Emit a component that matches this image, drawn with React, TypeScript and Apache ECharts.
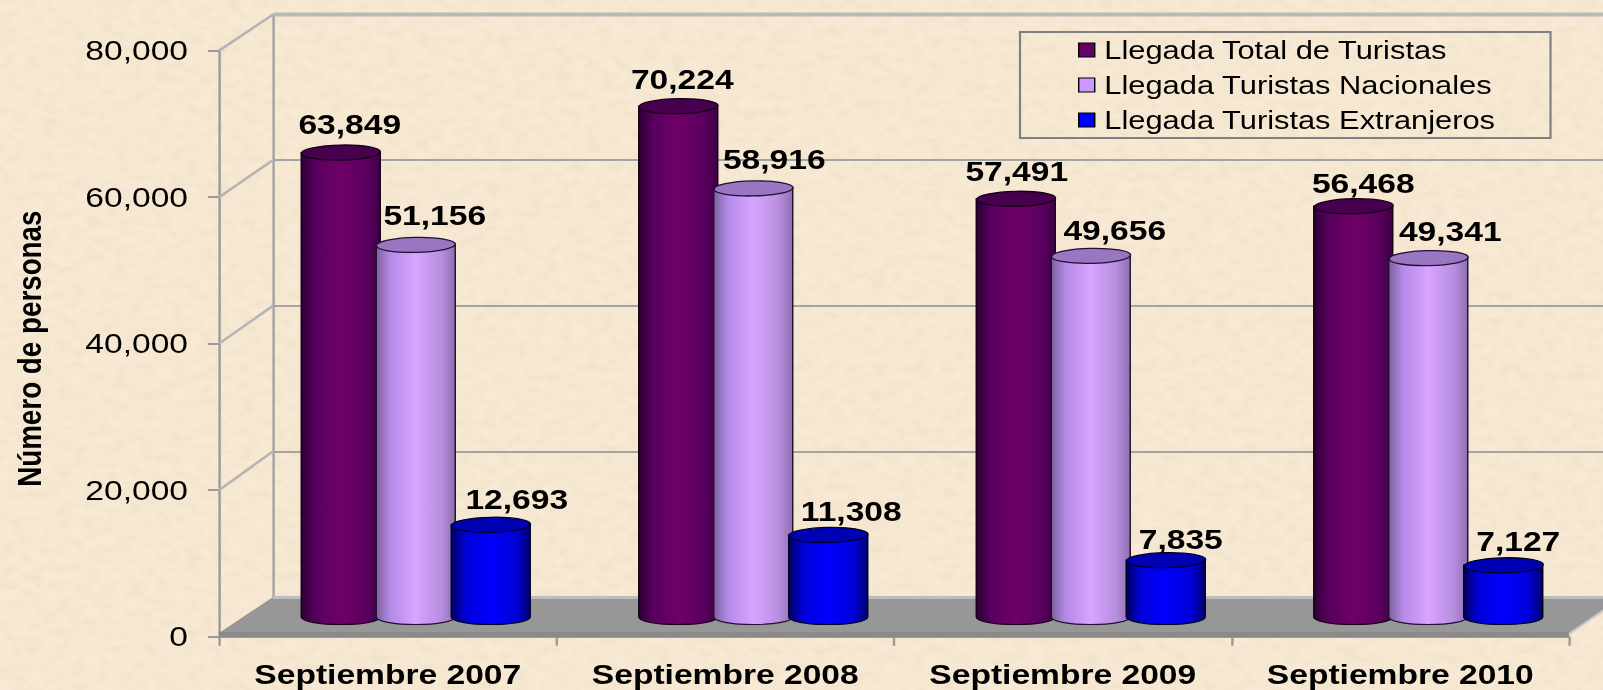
import React, { useEffect, useRef } from "react";
import * as echarts from "echarts";

const categories = ["Septiembre 2007", "Septiembre 2008", "Septiembre 2009", "Septiembre 2010"];
const totalTuristas = [63849, 70224, 57491, 56468];
const nacionales = [51156, 58916, 49656, 49341];
const extranjeros = [12693, 11308, 7835, 7127];
const seriesNames = ["Llegada Total de Turistas", "Llegada Turistas Nacionales", "Llegada Turistas Extranjeros"];
const yTicks = [0, 20000, 40000, 60000, 80000];

// hand-placed data-label nudges [dx, dy] in page pixels, per series then category
const labelNudges = [
  [[9, -28], [4, -27], [1, -27], [10, -23]],
  [[19, -29], [21, -29], [24, -25], [22, -27]],
  [[26, -25], [23, -23], [15, -21], [15, -24]],
];

// The reference is a picture stretched sideways: the chart is laid out narrower and stretched back.
const K = 1.2;
const PAGE_W = 1603;
const PAGE_H = 690;
const X = (px: number) => px / K;

const FONT = '"Liberation Sans", Arial, sans-serif';

const looks = [
  {
    stops: ["#2c0033", "#58005e", "#6e0068", "#5c0060", "#3d0045"],
    top: "#47004d",
    line: "#160018",
  },
  {
    stops: ["#7c619c", "#b48ae8", "#d8a4ff", "#b88ee0", "#8f6fb0"],
    top: "#9a76c2",
    line: "#1d1230",
  },
  {
    stops: ["#000060", "#0000d8", "#0000ff", "#0000d8", "#000070"],
    top: "#0000b4",
    line: "#000020",
  },
];

const texture =
  "data:image/svg+xml;utf8," +
  encodeURIComponent(
    `<svg xmlns="http://www.w3.org/2000/svg" width="${PAGE_W}" height="${PAGE_H}">
      <filter id="n" x="0" y="0" width="100%" height="100%">
        <feTurbulence type="fractalNoise" baseFrequency="0.07 0.11" numOctaves="4" seed="7"/>
        <feColorMatrix values="0 0 0 0 0.66  0 0 0 0 0.54  0 0 0 0 0.38  0.36 0 0 0 -0.13"/>
      </filter>
      <rect width="100%" height="100%" fill="#f7e9d3"/>
      <rect width="100%" height="100%" filter="url(#n)"/>
    </svg>`
  );

function makeRenderItem(values: number[], seriesIdx: number) {
  return (params: any, api: any) => {
    const i = api.value(0);
    const v = api.value(1);
    const band = api.size([1, 0])[0];
    const base = api.coord([i, 0]);
    const top = api.coord([i, v]);
    const cx = base[0] + band * 0.2222 * (seriesIdx - 1);
    const rx = band * 0.117;
    const ry = 7.5;
    const look = looks[seriesIdx];
    const nudge = labelNudges[seriesIdx][i];
    const d = `M ${cx - rx} ${top[1]} L ${cx - rx} ${base[1]} A ${rx} ${ry} 0 0 0 ${cx + rx} ${base[1]} L ${cx + rx} ${top[1]} Z`;
    return {
      type: "group",
      children: [
        {
          type: "path",
          shape: { pathData: d, layout: "cover", x: cx - rx, y: top[1], width: rx * 2, height: base[1] - top[1] + ry },
          style: {
            fill: new echarts.graphic.LinearGradient(0, 0, 1, 0, [
              { offset: 0, color: look.stops[0] },
              { offset: 0.18, color: look.stops[1] },
              { offset: 0.5, color: look.stops[2] },
              { offset: 0.82, color: look.stops[3] },
              { offset: 1, color: look.stops[4] },
            ]),
            stroke: look.line,
            lineWidth: 1.2,
          },
        },
        {
          type: "ellipse",
          shape: { cx, cy: top[1], rx, ry },
          originX: cx,
          originY: top[1],
          rotation: 0.025,
          style: { fill: look.top, stroke: look.line, lineWidth: 1.3 },
        },
        {
          type: "text",
          style: {
            text: values[i].toLocaleString("en-US"),
            x: cx + X(nudge[0]),
            y: top[1] + nudge[1],
            align: "center",
            verticalAlign: "middle",
            fontFamily: FONT,
            fontWeight: "bold",
            fontSize: 28,
            fill: "#000",
          },
        },
      ],
    };
  };
}

function buildOption() {
  const wallTop = 14.5;
  const wallBottom = 597;
  const frontTop = 50.7;
  const frontBottom = 636.7;
  const frontLeft = 219;
  const backLeft = 273;
  const frontRight = 1569;
  const backRight = 1623;
  const valueToFront = (v: number) => frontBottom - (v / 80000) * (frontBottom - frontTop);
  const valueToBack = (v: number) => wallBottom - (v / 80000) * (wallBottom - wallTop);

  const graphics: any[] = [
    {
      type: "rect",
      shape: { x: X(backLeft), y: wallTop - 2, width: X(PAGE_W - backLeft + 10), height: 4 },
      style: { fill: "#b9b9b9" },
      z: 1,
    },
    {
      type: "polygon",
      shape: {
        points: [
          [X(frontLeft), 633],
          [X(backLeft), wallBottom],
          [X(backRight), wallBottom],
          [X(frontRight), 633],
        ],
      },
      style: { fill: "#979797" },
      z: 1,
    },
    {
      type: "rect",
      shape: { x: X(backLeft), y: wallBottom - 1, width: X(backRight - backLeft), height: 3 },
      style: { fill: "#bdbdbd" },
      z: 1,
    },
    {
      type: "rect",
      shape: { x: X(frontLeft), y: 632, width: X(frontRight - frontLeft), height: 5 },
      style: { fill: "#8a8a8a" },
      z: 1,
    },
    {
      type: "line",
      shape: { x1: X(frontRight), y1: 634, x2: X(backRight), y2: wallBottom },
      style: { stroke: "#c9c9c9", lineWidth: 2 },
      z: 1,
    },
    ...yTicks.slice(1).map((v) => ({
      type: "line",
      shape: { x1: X(frontLeft), y1: valueToFront(v), x2: X(backLeft), y2: valueToBack(v) },
      style: { stroke: "#b4b4b4", lineWidth: 2.4 },
      z: 1,
    })),
  ];

  const hiddenX = (gridIndex: number) => ({
    type: "category",
    gridIndex,
    data: categories,
    show: false,
  });
  const hiddenY = (gridIndex: number) => ({
    type: "value",
    gridIndex,
    min: 0,
    max: 80000,
    interval: 20000,
    axisLabel: { show: false },
    axisTick: { show: false },
    axisLine: { show: false },
    splitLine: { show: false },
  });

  const valueSets = [totalTuristas, nacionales, extranjeros];

  return {
    animation: false,
    backgroundColor: "transparent",
    textStyle: { fontFamily: FONT },
    graphic: { elements: graphics },
    legend: {
      orient: "vertical",
      left: X(1020),
      top: 32,
      padding: [5, X(55), 5, X(58)],
      borderColor: "#808080",
      borderWidth: 1.8,
      backgroundColor: "transparent",
      itemWidth: X(16),
      itemHeight: 14,
      itemGap: 9,
      icon: "rect",
      itemStyle: { borderColor: "#000", borderWidth: 1.2 },
      textStyle: { fontFamily: FONT, fontSize: 25.7, color: "#000", padding: [2, 0, 0, 3] },
      data: seriesNames,
    },
    grid: [
      // back wall
      { left: X(backLeft), top: wallTop, width: X(1400), height: wallBottom - wallTop, outerBoundsMode: "none" },
      // front axes
      {
        left: X(frontLeft),
        top: frontTop,
        width: X(frontRight - frontLeft),
        height: frontBottom - frontTop,
        outerBoundsMode: "none",
      },
      // plane the cylinders stand on
      { left: X(247), top: 35, width: X(1350), height: 582, outerBoundsMode: "none" },
    ],
    xAxis: [
      hiddenX(0),
      {
        type: "category",
        gridIndex: 1,
        data: categories,
        axisLine: { show: true, lineStyle: { color: "#9a9a9a", width: 2 } },
        axisTick: { show: true, length: 9, lineStyle: { color: "#9a9a9a", width: 2 } },
        axisLabel: {
          interval: 0,
          margin: 24,
          fontFamily: FONT,
          fontWeight: "bold",
          fontSize: 28,
          color: "#000",
        },
      },
      hiddenX(2),
    ],
    yAxis: [
      {
        ...hiddenY(0),
        axisLine: { show: true, lineStyle: { color: "#a3a3a3", width: 2 } },
        splitLine: { show: true, lineStyle: { color: "#a3a3a3", width: 2 } },
      },
      {
        type: "value",
        gridIndex: 1,
        min: 0,
        max: 80000,
        interval: 20000,
        name: "Número de personas",
        nameLocation: "middle",
        nameRotate: 90,
        nameGap: X(173),
        nameTextStyle: {
          fontFamily: FONT,
          fontWeight: "bold",
          fontSize: 27.8,
          color: "#000",
          padding: [0, 10, 0, 0],
        },
        axisLine: { show: true, lineStyle: { color: "#9a9a9a", width: 2 } },
        axisTick: { show: true, length: X(11), lineStyle: { color: "#9a9a9a", width: 2 } },
        splitLine: { show: false },
        axisLabel: {
          margin: X(31),
          fontFamily: FONT,
          fontSize: 28,
          color: "#000",
          padding: [3, 0, 0, 0],
          formatter: (v: number) => v.toLocaleString("en-US"),
        },
      },
      hiddenY(2),
    ],
    series: seriesNames.map((name, s) => ({
      type: "custom",
      name,
      coordinateSystem: "cartesian2d",
      xAxisIndex: 2,
      yAxisIndex: 2,
      encode: { x: 0, y: 1 },
      clip: false,
      z: 3 + s,
      itemStyle: { color: ["#660066", "#cc99ff", "#0000ff"][s] },
      data: valueSets[s].map((v, i) => [i, v]),
      renderItem: makeRenderItem(valueSets[s], s),
    })),
  };
}

export default function App() {
  const ref = useRef<HTMLDivElement>(null);
  useEffect(() => {
    document.body.style.margin = "0";
    document.body.style.overflow = "hidden";
    const chart = echarts.init(ref.current!, undefined, { renderer: "svg" });
    chart.setOption(buildOption() as any);
    return () => chart.dispose();
  }, []);
  return (
    <div
      style={{
        position: "relative",
        width: PAGE_W,
        height: PAGE_H,
        overflow: "hidden",
        backgroundImage: `url("${texture}")`,
      }}
    >
      <div
        ref={ref}
        style={{
          position: "absolute",
          left: 0,
          top: 0,
          width: PAGE_W / K,
          height: PAGE_H,
          transform: `scaleX(${K})`,
          transformOrigin: "0 0",
        }}
      />
    </div>
  );
}
